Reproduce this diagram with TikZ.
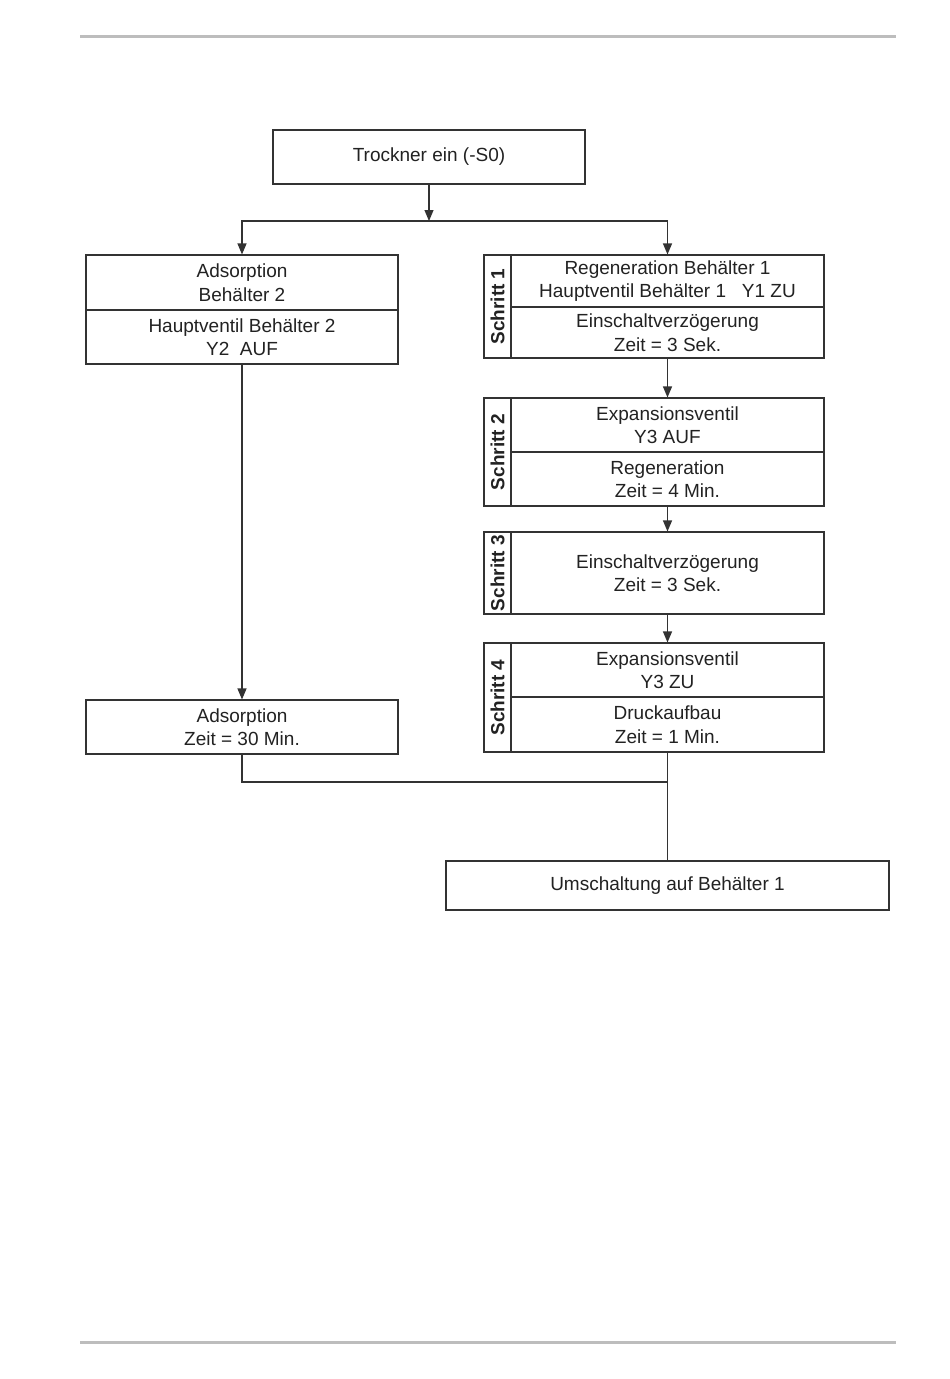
\documentclass[tikz,border=0pt]{standalone}
\usepackage{fontspec}
\setmainfont{Liberation Sans}
\usetikzlibrary{arrows.meta}
\definecolor{ln}{HTML}{333333}
\definecolor{tx}{HTML}{222222}
\definecolor{rule}{HTML}{BDBDBD}
\tikzset{
  box/.style={draw=ln, line width=1.1pt, inner sep=0pt, align=center, text=tx,
    font=\fontsize{19}{23.5}\selectfont},
  tabbox/.style={draw=ln, line width=1.1pt, inner sep=0pt, minimum width=27pt},
  tablabel/.style={rotate=90, inner sep=0pt, text=tx, font=\fontsize{19}{22}\selectfont\bfseries},
  conn/.style={draw=ln, line width=1.1pt},
  arr/.style={conn, -{Triangle[length=11pt,width=9pt]}}
}
\begin{document}
\begin{tikzpicture}[x=1pt,y=-1pt]
\useasboundingbox (0,0) rectangle (950,1379);
\fill[white] (0,0) rectangle (950,1379);
% page rules
\draw[rule, line width=3pt] (80,36) -- (896,36);
\draw[rule, line width=3pt] (80,1342) -- (896,1342);

% top
\node[box, minimum width=312pt, minimum height=54pt] (tr) at (429,157) {Trockner ein (-S0)};

% left column
\node[box, minimum width=312pt, minimum height=55pt] (lt) at (242,282.5) {Adsorption\\Behälter 2};
\node[box, minimum width=312pt, minimum height=54pt] (lb) at (242,337) {Hauptventil Behälter 2\\Y2\ \ AUF};
\node[box, minimum width=312pt, minimum height=54pt] (ad) at (242,727) {Adsorption\\Zeit = 30 Min.};

% step 1
\node[tabbox, minimum height=103pt] (s1) at (497.5,306.5) {};
\node[tablabel] (s1l) at (s1) {Schritt 1};
\node[box, minimum width=313pt, minimum height=52pt] (r1a) at (667.5,281) {Regeneration Behälter 1\\Hauptventil Behälter 1\ \ \ Y1 ZU};
\node[box, minimum width=313pt, minimum height=51pt] (r1b) at (667.5,332.5) {Einschaltverzögerung\\Zeit = 3 Sek.};

% step 2
\node[tabbox, minimum height=108pt] (s2) at (497.5,452) {};
\node[tablabel] (s2l) at (s2) {Schritt 2};
\node[box, minimum width=313pt, minimum height=54pt] (r2a) at (667.5,425) {Expansionsventil\\Y3 AUF};
\node[box, minimum width=313pt, minimum height=54pt] (r2b) at (667.5,479) {Regeneration\\Zeit = 4 Min.};

% step 3
\node[tabbox, minimum height=82pt] (s3) at (497.5,573) {};
\node[tablabel] (s3l) at (s3) {Schritt 3};
\node[box, minimum width=313pt, minimum height=82pt] (r3) at (667.5,573) {Einschaltverzögerung\\Zeit = 3 Sek.};

% step 4
\node[tabbox, minimum height=109pt] (s4) at (497.5,697.5) {};
\node[tablabel] (s4l) at (s4) {Schritt 4};
\node[box, minimum width=313pt, minimum height=54pt] (r4a) at (667.5,670) {Expansionsventil\\Y3 ZU};
\node[box, minimum width=313pt, minimum height=55pt] (r4b) at (667.5,724.5) {Druckaufbau\\Zeit = 1 Min.};

% bottom
\node[box, minimum width=443pt, minimum height=49pt] (um) at (667.5,885.5) {Umschaltung auf Behälter 1};

% connectors
\coordinate (split) at (429,221);
\coordinate (merge) at (667.5,782);
\draw[arr] (tr.south) -- (split);
\draw[conn] (lt.north |- split) -- (r1a.north |- split);
\draw[arr] (split) -| (lt.north);
\draw[arr] (split) -| (r1a.north);
\draw[arr] (lb.south) -- (ad.north);
\draw[arr] (r1b.south) -- (r2a.north);
\draw[arr] (r2b.south) -- (r3.north);
\draw[arr] (r3.south) -- (r4a.north);
\draw[conn] (ad.south) |- (merge);
\draw[conn] (r4b.south) -- (um.north);
\end{tikzpicture}
\end{document}
